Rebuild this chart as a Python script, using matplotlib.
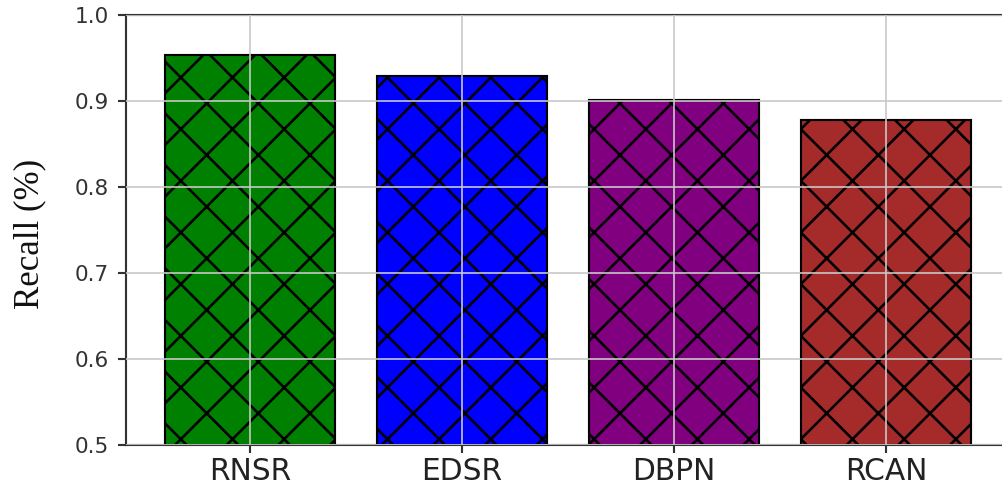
import matplotlib
matplotlib.use("Agg")
import matplotlib.pyplot as plt

methods = ["RNSR", "EDSR", "DBPN", "RCAN"]
recall = [0.953, 0.929, 0.901, 0.878]
bar_colors = ["green", "blue", "purple", "brown"]
y_ticks = [0.5, 0.6, 0.7, 0.8, 0.9, 1.0]

DPI = 310
k = 340 / DPI  # keeps sizes in pixels constant when DPI changes

plt.rcParams["hatch.linewidth"] = 0.55 * k
plt.rcParams["hatch.color"] = "black"

fig = plt.figure(figsize=(1002 / DPI, 485 / DPI), dpi=DPI)
ax = fig.add_axes([126 / 1002, 40 / 485, 885 / 1002, 430 / 485])

ax.bar(methods, recall, width=0.8, color=bar_colors, edgecolor="black",
       linewidth=0.45 * k, hatch="xx")

ax.set_ylim(0.5, 1.0)
ax.set_xlim(-0.585, 3.59)
ax.set_yticks(y_ticks)
ax.set_yticklabels([f"{v:.1f}" for v in y_ticks])

ax.grid(True, color="#c8c8c8", linewidth=0.35 * k)
ax.set_axisbelow(False)

for s in ax.spines.values():
    s.set_linewidth(0.45 * k)
    s.set_color("#333333")

ax.tick_params(axis="y", labelsize=4.6 * k, length=1.6 * k, width=0.45 * k,
               pad=2.0 * k, colors="#333333", labelcolor="#333333")
ax.tick_params(axis="x", labelsize=6.3 * k, length=1.6 * k, width=0.45 * k,
               pad=1.0 * k, colors="#333333", labelcolor="#222222")

ax.set_ylabel("Recall (%)", family="Liberation Serif", fontsize=7.4 * k,
              color="#111111")
ax.yaxis.set_label_coords(-0.09, 0.49)

fig.savefig("out.png", dpi=DPI)
